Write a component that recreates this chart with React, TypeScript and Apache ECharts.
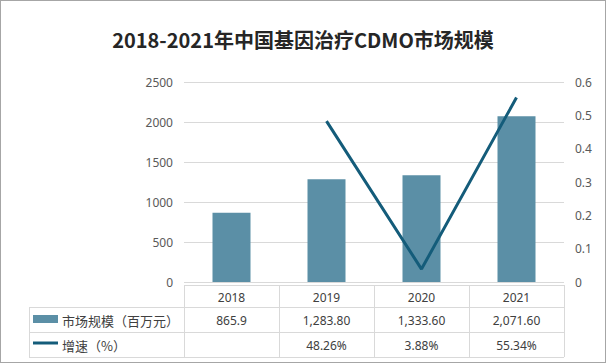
import React, { useEffect, useRef } from "react";
import * as echarts from "echarts";

const titleText = "2018-2021年中国基因治疗CDMO市场规模";
const categories = ["2018", "2019", "2020", "2021"];
const marketSize = [865.9, 1283.8, 1333.6, 2071.6];
const marketLabels = ["865.9", "1,283.80", "1,333.60", "2,071.60"];
const growth: (number | null)[] = [null, 0.4826, 0.0388, 0.5534];
const growthLabels = ["", "48.26%", "3.88%", "55.34%"];
const seriesNames = ["市场规模（百万元）", "增速（%）"];

const BAR = "#5b8fa6";
const LINE = "#145c7a";
const TXT = "#404040";
const AX = "#595959";
const GRIDC = "#d9d9d9";

export default function App() {
  const ref = useRef<HTMLDivElement>(null);
  useEffect(() => {
    if (!ref.current) return;
    const chart = echarts.init(ref.current, undefined, { renderer: "svg" });
    const gl = 184, gr = 564, gt = 82, gb = 282;
    chart.setOption({
      animation: false,
      title: {
        text: titleText,
        left: "center",
        top: 24,
        textStyle: { fontSize: 20, fontWeight: "bold", color: "#262626", fontFamily: "Noto Sans CJK SC" },
      },
      grid: { left: gl, right: 606 - gr, top: gt, bottom: 363 - gb },
      xAxis: {
        type: "category",
        data: categories,
        axisLine: { show: false },
        axisTick: { show: false },
        axisLabel: { show: false },
      },
      yAxis: [
        {
          type: "value",
          min: 0,
          max: 2500,
          interval: 500,
          axisLine: { show: false },
          axisTick: { show: false },
          axisLabel: { color: AX, fontSize: 12, margin: 11, fontFamily: "Noto Sans", formatter: (v: number) => String(v) },
          splitLine: { lineStyle: { color: GRIDC, width: 1 } },
        },
        {
          type: "value",
          min: 0,
          max: 0.6,
          interval: 0.1,
          axisLine: { show: false },
          axisTick: { show: false },
          axisLabel: { color: AX, fontSize: 12, margin: 11, fontFamily: "Noto Sans" },
          splitLine: { show: false },
        },
      ],
      series: [
        {
          name: seriesNames[0],
          type: "bar",
          data: marketSize,
          barWidth: "40%",
          itemStyle: { color: BAR },
        },
        {
          name: seriesNames[1],
          type: "line",
          yAxisIndex: 1,
          data: growth,
          symbol: "none",
          lineStyle: { color: LINE, width: 3 },
          connectNulls: false,
        },
      ],
    });

    const colW = (gr - gl) / categories.length;
    const tl = 29;
    const r0 = 285, r1 = 307, r2 = 332, r3 = 357;
    const lineStyle = { stroke: GRIDC, lineWidth: 1 };
    const g: any[] = [];
    const hl = (x1: number, x2: number, y: number) =>
      g.push({ type: "line", shape: { x1, y1: y + 0.5, x2, y2: y + 0.5 }, style: lineStyle, silent: true });
    const vl = (x: number, y1: number, y2: number) =>
      g.push({ type: "line", shape: { x1: x + 0.5, y1, x2: x + 0.5, y2 }, style: lineStyle, silent: true });
    hl(gl, gr, r0);
    hl(tl, gr, r1);
    hl(tl, gr, r2);
    hl(tl, gr, r3);
    vl(tl, r1, r3);
    for (let i = 0; i <= categories.length; i++) vl(gl + i * colW, r0, r3);
    const font = { fontSize: 12, fill: TXT, fontFamily: "Noto Sans" };
    categories.forEach((c, i) => {
      const cx = chart.convertToPixel({ xAxisIndex: 0 }, c) as number;
      g.push({ type: "text", x: cx, y: (r0 + r1) / 2 + 1, style: { ...font, text: c, align: "center", verticalAlign: "middle" } });
      g.push({ type: "text", x: cx, y: (r1 + r2) / 2 + 1, style: { ...font, text: marketLabels[i], align: "center", verticalAlign: "middle" } });
      if (growthLabels[i])
        g.push({ type: "text", x: cx, y: (r2 + r3) / 2 + 1, style: { ...font, text: growthLabels[i], align: "center", verticalAlign: "middle" } });
    });
    g.push({ type: "rect", shape: { x: 33, y: 315, width: 25, height: 8 }, style: { fill: BAR } });
    g.push({ type: "text", x: 62, y: (r1 + r2) / 2 + 1, style: { text: seriesNames[0], fontSize: 13, fill: TXT, fontFamily: "Noto Sans CJK SC", verticalAlign: "middle" } });
    g.push({ type: "line", shape: { x1: 33, y1: 343, x2: 58, y2: 343 }, style: { stroke: LINE, lineWidth: 3 } });
    g.push({ type: "text", x: 62, y: (r2 + r3) / 2 + 1, style: { text: seriesNames[1], fontSize: 13, fill: TXT, fontFamily: "Noto Sans CJK SC", verticalAlign: "middle" } });
    chart.setOption({ graphic: g });
    return () => chart.dispose();
  }, []);
  return (
    <div
      style={{
        position: "fixed",
        left: 0,
        top: 0,
        width: 606,
        height: 363,
        boxSizing: "border-box",
        border: "1px solid #a6a6a6",
        background: "#fff",
      }}
    >
      <div ref={ref} style={{ position: "absolute", left: -1, top: -1, width: 606, height: 363 }} />
    </div>
  );
}
